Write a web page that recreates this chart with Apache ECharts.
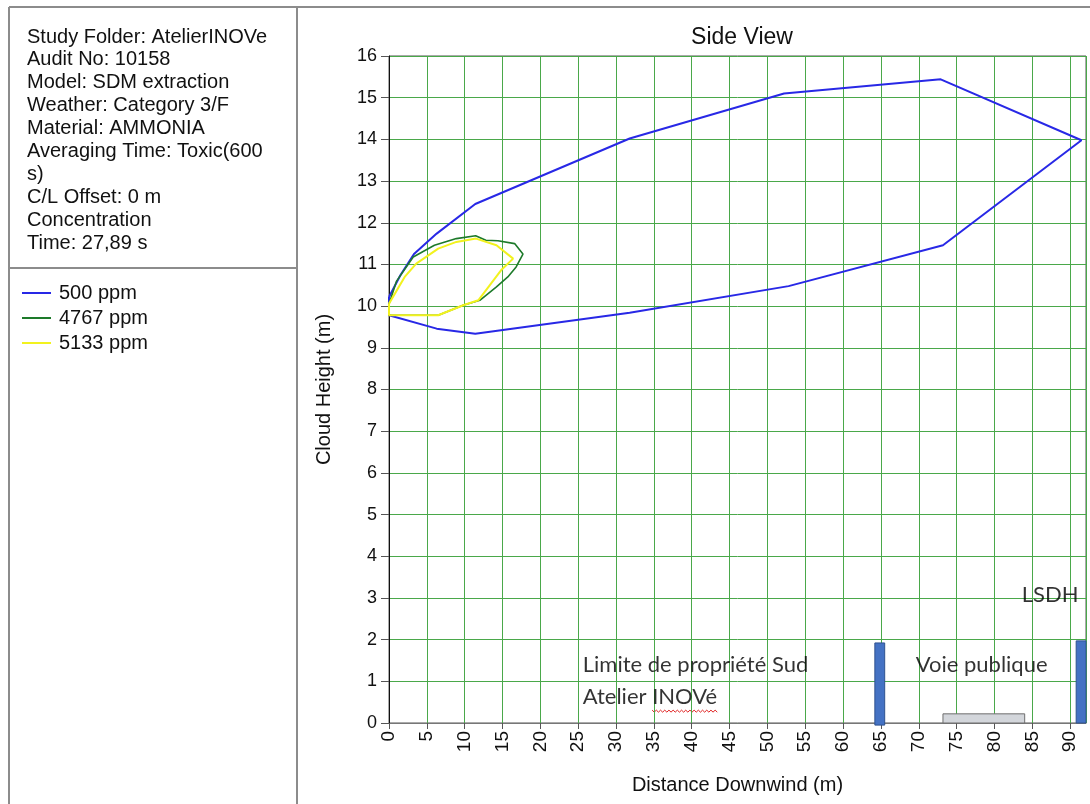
<!DOCTYPE html>
<html><head><meta charset="utf-8">
<script src="https://cdn.jsdelivr.net/npm/echarts@6/dist/echarts.min.js"></script>
<style>html,body{margin:0;padding:0;background:#fff;}#c{width:1090px;height:804px;}</style>
</head><body><div id="c"></div>
<script>
// ---- data ----
const infoLines = ["Study Folder: AtelierINOVe","Audit No: 10158","Model: SDM extraction","Weather: Category 3/F","Material: AMMONIA","Averaging Time: Toxic(600","s)","C/L Offset: 0 m","Concentration","Time: 27,89 s"];
const seriesNames = ["500 ppm","4767 ppm","5133 ppm"];
const c500X = [0, 1.5, 3.3, 6.3, 11.4, 31.8, 52.2, 72.9, 91.5, 73.2, 52.8, 31.8, 11.4, 6.3, 0, 0];
const c500Y = [10.22, 10.74, 11.25, 11.74, 12.45, 14.02, 15.1, 15.44, 13.98, 11.46, 10.48, 9.84, 9.34, 9.46, 9.78, 10.22];
const c4767X = [0, 1.0, 3.2, 6.0, 8.9, 11.45, 12.8, 14.4, 16.6, 17.7, 16.8, 15.7, 14.2, 12.0, 9.8, 6.5, 0, 0];
const c4767Y = [10.05, 10.6, 11.18, 11.46, 11.62, 11.69, 11.58, 11.57, 11.5, 11.25, 10.94, 10.7, 10.46, 10.14, 10.02, 9.78, 9.78, 10.05];
const c5133X = [0, 2.07, 3.6, 6.5, 8.9, 11.5, 14.2, 16.4, 14.8, 13.3, 11.8, 9.8, 6.5, 0, 0];
const c5133Y = [10.06, 10.7, 11.02, 11.38, 11.54, 11.62, 11.46, 11.14, 10.86, 10.5, 10.14, 10.02, 9.78, 9.78, 10.06];
// boundary rectangles [x0, y0, x1, y1]
const wallRects = [[64.2, -0.05, 65.5, 1.92], [90.8, 0, 92.1, 1.97]];
const roadRects = [[73.2, 0, 84.0, 0.22]];
// annotations [x, y, text]
const notes = [[25.6, 1.39, "Limite de propriété Sud"], [25.6, 0.62, "Atelier INOVé"], [69.6, 1.39, "Voie publique"], [83.6, 3.07, "LSDH"]];
const xMin = 0, xMax = 92.1, xStep = 5, yMin = 0, yMax = 16, yStep = 1;

const zip = (a, b) => a.map((v, i) => [v, b[i]]);
const FONT = "Liberation Sans, Arial, sans-serif";
const NOTE_FONT = "Lato, Carlito, Open Sans, sans-serif";
const chart = echarts.init(document.getElementById('c'), null, {renderer: 'canvas'});

function rectItem(fill, stroke) {
  return function (params, api) {
    const p0 = api.coord([api.value(0), api.value(1)]);
    const p1 = api.coord([api.value(2), api.value(3)]);
    return {type: 'rect', shape: {x: Math.min(p0[0], p1[0]), y: Math.min(p0[1], p1[1]), width: Math.abs(p1[0] - p0[0]), height: Math.abs(p1[1] - p0[1])},
      style: {fill: fill, stroke: stroke, lineWidth: 1}};
  };
}

const graphics = [
  {type: 'line', shape: {x1: 9, y1: 7, x2: 1090, y2: 7}, style: {stroke: '#8c8c8c', lineWidth: 2}},
  {type: 'line', shape: {x1: 9, y1: 7, x2: 9, y2: 804}, style: {stroke: '#8c8c8c', lineWidth: 2}},
  {type: 'line', shape: {x1: 297, y1: 7, x2: 297, y2: 804}, style: {stroke: '#8c8c8c', lineWidth: 2}},
  {type: 'line', shape: {x1: 9, y1: 268, x2: 297, y2: 268}, style: {stroke: '#8c8c8c', lineWidth: 2}}
];
infoLines.forEach((t, i) => graphics.push({type: 'text', left: 27, top: 27 + i * 22.9,
  style: {text: t, font: '20px ' + FONT, fill: '#111'}}));

const option = {
  animation: false,
  backgroundColor: '#fff',
  title: {text: 'Side View', left: 737, top: 21, textAlign: 'center',
    textStyle: {fontFamily: FONT, fontSize: 23, fontWeight: 'normal', color: '#111'}},
  legend: {data: seriesNames, orient: 'vertical', left: 17, top: 278, icon: 'rect', itemWidth: 29, itemHeight: 2, itemGap: 5,
    textStyle: {fontFamily: FONT, fontSize: 20, color: '#111', padding: [0, 0, 0, 3]}},
  grid: {left: 389, top: 56, right: 4, bottom: 81, show: true, borderColor: '#555', borderWidth: 1},
  xAxis: {type: 'value', min: xMin, max: xMax, interval: xStep,
    name: 'Distance Downwind (m)', nameLocation: 'middle', nameGap: 52,
    nameTextStyle: {fontFamily: FONT, fontSize: 20, color: '#111'},
    axisLine: {lineStyle: {color: '#777', width: 1}},
    axisTick: {show: true, length: 6, lineStyle: {color: '#555'}},
    axisLabel: {rotate: 90, margin: 8, fontFamily: FONT, fontSize: 19, color: '#111', showMaxLabel: false},
    splitLine: {show: true, lineStyle: {color: '#4aa84a', width: 1}}},
  yAxis: {type: 'value', min: yMin, max: yMax, interval: yStep,
    name: 'Cloud Height (m)', nameLocation: 'middle', nameGap: 55, nameRotate: 90,
    nameTextStyle: {fontFamily: FONT, fontSize: 20, color: '#111'},
    axisLine: {show: true, lineStyle: {color: '#111', width: 1}},
    axisTick: {show: true, length: 8, lineStyle: {color: '#555'}},
    axisLabel: {margin: 12, fontFamily: FONT, fontSize: 18, color: '#111'},
    splitLine: {show: true, lineStyle: {color: '#4aa84a', width: 1}}},
  graphic: graphics,
  series: [
    {name: seriesNames[0], type: 'line', data: zip(c500X, c500Y), showSymbol: false, symbol: 'none', color: '#2828e6', lineStyle: {width: 2, color: '#2828e6'}, z: 3},
    {name: seriesNames[1], type: 'line', data: zip(c4767X, c4767Y), showSymbol: false, symbol: 'none', color: '#1d7a2a', lineStyle: {width: 1.6, color: '#1d7a2a'}, z: 4},
    {name: seriesNames[2], type: 'line', data: zip(c5133X, c5133Y), showSymbol: false, symbol: 'none', color: '#f2f21e', lineStyle: {width: 2, color: '#f2f21e'}, z: 5},
    {type: 'custom', renderItem: rectItem('#4472c4', '#2f528f'), data: wallRects, z: 6, silent: true},
    {type: 'custom', renderItem: rectItem('#d3d6db', '#6e6e6e'), data: roadRects, z: 6, silent: true},
    {type: 'scatter', data: notes.map(n => [n[0], n[1], n[2]]), symbolSize: 0, silent: true, z: 7,
      label: {show: true, position: 'right', distance: 0, formatter: p => p.data[2],
        fontFamily: NOTE_FONT, fontSize: 22, color: '#000'}}
  ]
};
chart.setOption(option);

// spell-check squiggle under "INOVé"
const ctx = document.createElement('canvas').getContext('2d');
ctx.font = '22px ' + NOTE_FONT;
const off = ctx.measureText('Atelier ').width, len = ctx.measureText('INOVé').width;
const p = chart.convertToPixel({gridIndex: 0}, [notes[1][0], notes[1][1]]);
const sx = p[0] + off, sy = p[1] + 13, pts = [];
const n = Math.round(len / 2.1);
for (let i = 0; i <= n; i++) pts.push([sx + i * 2.1, sy + (i % 2 ? 2 : 0)]);
chart.setOption({graphic: graphics.concat([{type: 'polyline', shape: {points: pts}, style: {stroke: '#e02020', lineWidth: 1, fill: null}}])});
</script></body></html>
